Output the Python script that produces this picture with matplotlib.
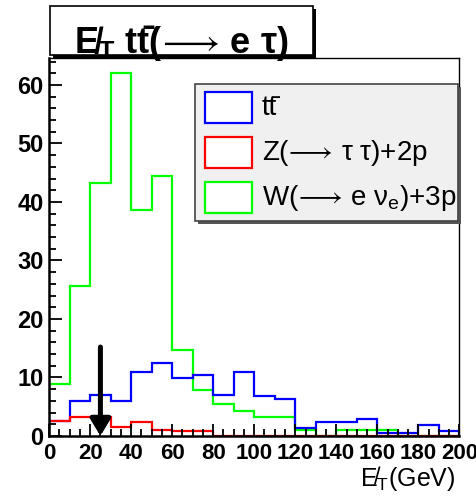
import numpy as np
import matplotlib
matplotlib.use('Agg')
import matplotlib.pyplot as plt
from matplotlib.patches import Rectangle

plt.rcParams['font.family'] = ['Liberation Sans', 'DejaVu Sans']
plt.rcParams['mathtext.fontset'] = 'custom'
plt.rcParams['mathtext.rm'] = 'Liberation Sans'
plt.rcParams['mathtext.bf'] = 'Liberation Sans:bold'
plt.rcParams['mathtext.it'] = 'Liberation Sans:italic'
plt.rcParams['mathtext.fallback'] = 'stixsans'
plt.rcParams['mathtext.default'] = 'regular'

# MET histograms, 10 GeV bins from 0 to 200
edges = np.arange(0, 210, 10)
ttbar = [2.6, 5.9, 7.0, 6.0, 10.9, 12.4, 9.9, 10.5, 7.0, 10.9,
         6.9, 6.3, 1.3, 2.4, 2.4, 2.9, 0.5, 0.5, 1.8, 0.9]
ztautau = [2.6, 3.2, 3.2, 1.5, 2.4, 1.1, 0.9, 0.8, 0, 0,
           0, 0, 0, 0, 0, 0, 0, 0, 0, 0]
wenu = [8.9, 25.6, 43.2, 62.0, 38.7, 44.4, 14.7, 7.9, 5.4, 4.3,
        3.2, 3.2, 1.0, 0, 1.0, 1.0, 1.0, 0, 0, 0]

ARR = '$\\!\\longrightarrow\\!$'
labels = ['tt\u0304',
          'Z(' + ARR + ' \u03c4 \u03c4)+2p',
          'W(' + ARR + ' e \u03bd$_{e}$)+3p']
colors = ['#0000ff', '#ff0000', '#00ff00']

cut_x = 25
cut_top = 15.2

fig = plt.figure(figsize=(4.77, 5.0), dpi=100)
ax = fig.add_axes([0.103, 0.128, 0.86, 0.756])

ax.stairs(wenu, edges, color=colors[2], lw=1.6)
ax.stairs(ttbar, edges, color=colors[0], lw=1.6)
ax.stairs(ztautau, edges, color=colors[1], lw=1.6)

ax.annotate('', xy=(cut_x, 0), xytext=(cut_x, cut_top),
            arrowprops=dict(arrowstyle='-|>,head_width=0.6,head_length=1.0',
                            color='black', lw=3.6, shrinkA=0, shrinkB=0))

ax.set_xlim(0, 200)
ax.set_ylim(0, 64.6)
ax.set_xticks(np.arange(0, 201, 20))
ax.set_xticks(np.arange(0, 201, 5), minor=True)
ax.set_yticks(np.arange(0, 61, 10))
ax.set_yticks(np.arange(0, 65, 2), minor=True)
ax.tick_params(which='both', direction='in', top=False, right=False)
ax.tick_params(which='major', length=9, width=1.3)
ax.tick_params(which='minor', length=5, width=1.3)
ax.tick_params(axis='x', pad=5)
ax.tick_params(axis='y', pad=4)
for lab in ax.get_xticklabels():
    lab.set_fontsize(16)
    lab.set_fontweight('bold')
for lab in ax.get_yticklabels():
    lab.set_fontsize(17)
    lab.set_fontweight('bold')
for s in ax.spines.values():
    s.set_linewidth(1.0)
ax.spines['left'].set_linewidth(1.8)
ax.spines['bottom'].set_linewidth(1.8)

ax.text(0.99, -0.133, 'E\u0338$_{T}$(GeV)', transform=ax.transAxes,
        ha='right', va='baseline', fontsize=18)

# legend box (drawn in pixel-ish figure coords)
W, H = 477.0, 500.0
def fr(x0, y0, x1, y1):
    return (x0 / W, 1 - y1 / H), (x1 - x0) / W, (y1 - y0) / H

xy, w, h = fr(198, 87, 461, 224)
fig.patches.append(Rectangle(xy, w, h, transform=fig.transFigure,
                             facecolor='#555555', edgecolor='none', zorder=5))
xy, w, h = fr(195, 84, 458, 221)
fig.patches.append(Rectangle(xy, w, h, transform=fig.transFigure,
                             facecolor='#f0f0f0', edgecolor='#444444', lw=1.2, zorder=6))
for i, (lab, c) in enumerate(zip(labels, colors)):
    y0 = 92 + 45 * i
    xy, w, h = fr(205, y0, 252, y0 + 31)
    fig.patches.append(Rectangle(xy, w, h, transform=fig.transFigure,
                                 facecolor='white', edgecolor=c, lw=1.6, zorder=7))
    fig.text(262 / W, 1 - (y0 + 16) / H, lab, ha='left', va='center',
             fontsize=20, zorder=8)

# title box
xy, w, h = fr(53, 9, 316, 58)
fig.patches.append(Rectangle(xy, w, h, transform=fig.transFigure,
                             facecolor='black', edgecolor='none', zorder=5))
xy, w, h = fr(50, 6, 313, 55)
fig.patches.append(Rectangle(xy, w, h, transform=fig.transFigure,
                             facecolor='white', edgecolor='black', lw=1.2, zorder=6))
fig.text(181 / W, 1 - 43 / H,
         'E\u0338$_{\\mathbf{T}}$ tt\u0304(' + ARR + ' e \u03c4)',
         ha='center', va='center', fontsize=26, fontweight='bold', zorder=8)

plt.savefig('out.png', dpi=100)
